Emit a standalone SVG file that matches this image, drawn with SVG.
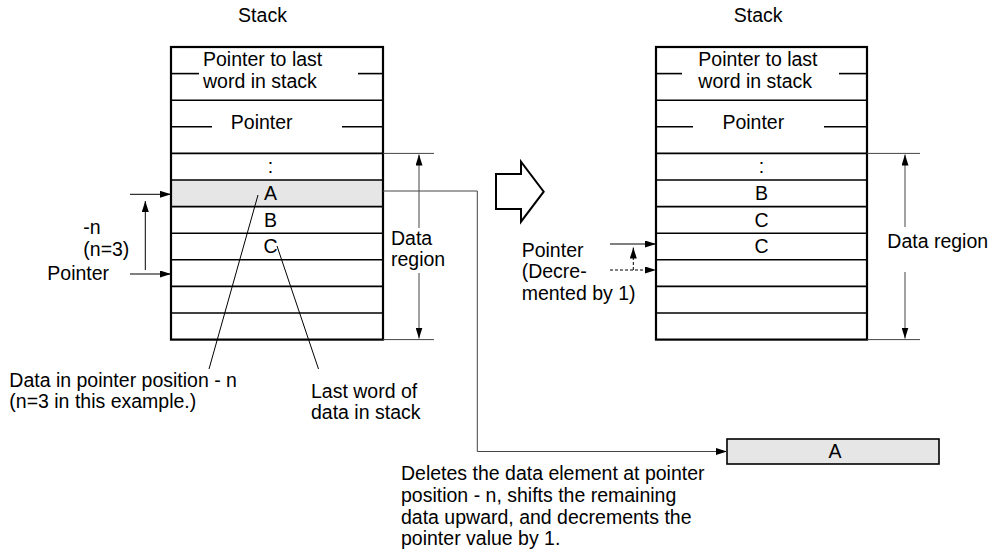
<svg xmlns="http://www.w3.org/2000/svg" width="999" height="552" viewBox="0 0 999 552">
<style>
text{font-family:"Liberation Sans",Arial,sans-serif;font-size:19.5px;fill:#000}
.c{text-anchor:middle}
.box{fill:none;stroke:#000;stroke-width:2.2}
.row{stroke:#000;stroke-width:1.6}
.ln{stroke:#000;stroke-width:1;fill:none}
.gl{stroke:#444;stroke-width:1;fill:none}
.ds{stroke:#000;stroke-width:1;fill:none;stroke-dasharray:3 2}
.grey{fill:#e6e6e6}
</style>
<defs>
<marker id="ah" markerUnits="userSpaceOnUse" markerWidth="11" markerHeight="7" refX="11" refY="3.5" orient="auto">
<path d="M0,0 L11,3.5 L0,7 z" fill="#000"/>
</marker>
</defs>
<rect width="999" height="552" fill="#fff"/>

<g id="left-stack">
<text x="262.5" y="22" class="c">Stack</text>
<rect class="grey" x="171" y="180" width="212" height="26.6"/>
<g class="row">
<line x1="171" y1="73.6" x2="199" y2="73.6"/><line x1="358" y1="73.6" x2="383" y2="73.6"/>
<line x1="171" y1="100.2" x2="383" y2="100.2"/>
<line x1="171" y1="126.8" x2="212" y2="126.8"/><line x1="342" y1="126.8" x2="383" y2="126.8"/>
<line x1="171" y1="153.4" x2="383" y2="153.4"/>
<line x1="171" y1="180" x2="383" y2="180"/>
<line x1="171" y1="206.6" x2="383" y2="206.6"/>
<line x1="171" y1="233.2" x2="383" y2="233.2"/>
<line x1="171" y1="259.8" x2="383" y2="259.8"/>
<line x1="171" y1="286.4" x2="383" y2="286.4"/>
<line x1="171" y1="313" x2="383" y2="313"/>
</g>
<rect class="box" x="171" y="47" width="212" height="292.6"/>
<text x="203" y="66">Pointer to last</text>
<text x="203" y="87.8">word in stack</text>
<text x="261.7" y="129.3" class="c">Pointer</text>
<text x="270.5" y="173.4" class="c">:</text>
<text x="270.5" y="200" class="c">A</text>
<text x="270.5" y="226.6" class="c">B</text>
<text x="270.5" y="253.2" class="c">C</text>
</g>

<g id="right-stack">
<text x="758.2" y="22" class="c">Stack</text>
<g class="row">
<line x1="656" y1="73.6" x2="682" y2="73.6"/><line x1="839" y1="73.6" x2="867" y2="73.6"/>
<line x1="656" y1="100.2" x2="867" y2="100.2"/>
<line x1="656" y1="126.8" x2="693" y2="126.8"/><line x1="824" y1="126.8" x2="867" y2="126.8"/>
<line x1="656" y1="153.4" x2="867" y2="153.4"/>
<line x1="656" y1="180" x2="867" y2="180"/>
<line x1="656" y1="206.6" x2="867" y2="206.6"/>
<line x1="656" y1="233.2" x2="867" y2="233.2"/>
<line x1="656" y1="259.8" x2="867" y2="259.8"/>
<line x1="656" y1="286.4" x2="867" y2="286.4"/>
<line x1="656" y1="313" x2="867" y2="313"/>
</g>
<rect class="box" x="656" y="47" width="211" height="292.6"/>
<text x="698.3" y="66">Pointer to last</text>
<text x="698.3" y="87.8">word in stack</text>
<text x="753.3" y="129.3" class="c">Pointer</text>
<text x="761.5" y="173.4" class="c">:</text>
<text x="761.5" y="200" class="c">B</text>
<text x="761.5" y="226.6" class="c">C</text>
<text x="761.5" y="253.2" class="c">C</text>
</g>

<g id="transform-arrow">
<polygon points="496,174 521,174 521,161.7 543.7,191.7 521,221.7 521,209 496,209" fill="#fff" stroke="#000" stroke-width="2"/>
</g>

<g id="result-box">
<rect x="727" y="439" width="212" height="25" fill="#e6e6e6" stroke="#000" stroke-width="1.6"/>
<text x="835" y="458" class="c">A</text>
</g>

<g id="labels">
<text x="83.3" y="233.5">-n</text>
<text x="83.3" y="256.3">(n=3)</text>
<text x="47.3" y="280">Pointer</text>
<text x="391" y="244.5">Data</text>
<text x="391" y="266.3">region</text>
<text x="9.3" y="386.5">Data in pointer position - n</text>
<text x="9.3" y="408.3">(n=3 in this example.)</text>
<text x="311" y="397.5">Last word of</text>
<text x="311" y="419.3">data in stack</text>
<text x="521.7" y="256.5">Pointer</text>
<text x="521.7" y="278.3">(Decre-</text>
<text x="521.7" y="300.1">mented by 1)</text>
<text x="887.3" y="248.3">Data region</text>
<text x="401" y="480">Deletes the data element at pointer</text>
<text x="401" y="501.8">position - n, shifts the remaining</text>
<text x="401" y="523.6">data upward, and decrements the</text>
<text x="401" y="545.4">pointer value by 1.</text>
</g>

<g id="connectors">
<line class="ln" x1="130" y1="194.3" x2="171" y2="194.3" marker-end="url(#ah)"/>
<line class="ln" x1="130" y1="274" x2="171" y2="274" marker-end="url(#ah)"/>
<line class="ln" x1="145.3" y1="270" x2="145.3" y2="201" marker-end="url(#ah)"/>
<line class="gl" x1="383" y1="153.4" x2="434" y2="153.4"/>
<line class="gl" x1="383" y1="339.6" x2="434" y2="339.6"/>
<line class="gl" x1="419" y1="228" x2="419" y2="154.5" marker-end="url(#ah)"/>
<line class="gl" x1="419" y1="273" x2="419" y2="338.5" marker-end="url(#ah)"/>
<line class="gl" x1="867" y1="153.4" x2="920" y2="153.4"/>
<line class="gl" x1="867" y1="339.6" x2="920" y2="339.6"/>
<line class="gl" x1="905" y1="227" x2="905" y2="154.5" marker-end="url(#ah)"/>
<line class="gl" x1="905" y1="272" x2="905" y2="338.5" marker-end="url(#ah)"/>
<path class="gl" d="M383,191 H477.3 V451.5 H727" marker-end="url(#ah)"/>
<line class="ln" x1="258" y1="195" x2="209" y2="369"/>
<line class="ln" x1="277" y1="246" x2="318.5" y2="369"/>
<line class="ln" x1="610" y1="244" x2="656" y2="244" marker-end="url(#ah)"/>
<line class="ds" x1="610" y1="270" x2="656" y2="270" marker-end="url(#ah)"/>
<line class="ds" x1="633.3" y1="270" x2="633.3" y2="247.5" marker-end="url(#ah)"/>
</g>
</svg>
